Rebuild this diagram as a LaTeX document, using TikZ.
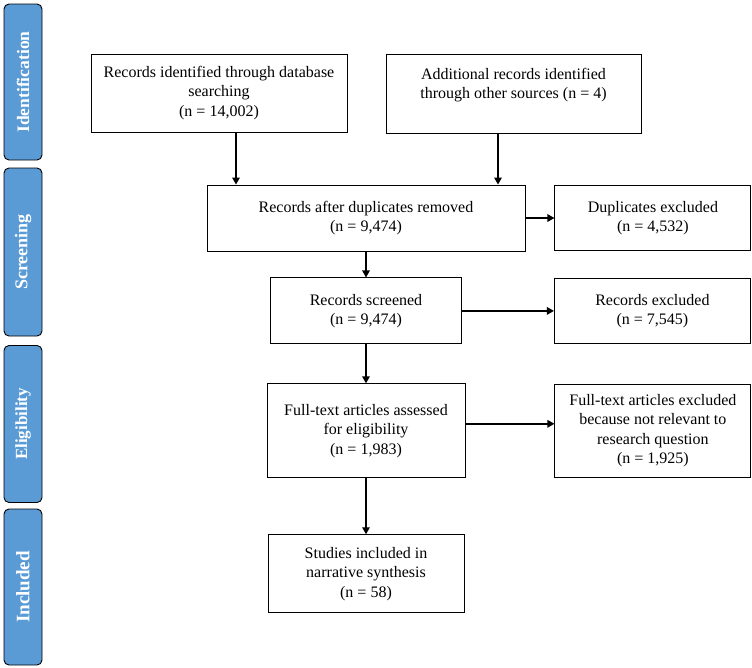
\documentclass[tikz,border=0pt]{standalone}
\usepackage{fontspec}
\setmainfont{Liberation Serif}
\usetikzlibrary{positioning,arrows.meta}
\definecolor{stageblue}{HTML}{5B9BD5}
\tikzset{
  flowbox/.style={draw=black, line width=0.9pt, align=center, inner sep=2pt, font=\fontsize{16}{19.5}\selectfont},
  stagebar/.style={draw=black, line width=0.9pt, fill=stageblue, rounded corners=5pt, rotate=90, minimum height=38pt, text=white, font=\bfseries\fontsize{#1}{20}\selectfont},
  flowarrow/.style={line width=1.4pt, -{Triangle[length=7pt,width=7.5pt]}},
}
\begin{document}
\begin{tikzpicture}[x=1pt,y=-1pt]
  \useasboundingbox (0,0) rectangle (752,667);
  \node[stagebar=17.5, minimum width=156pt] (ident) at (23,82) {Identification};
  \node[stagebar=18, minimum width=168pt] (screen) at (23,252) {Screening};
  \node[stagebar=17, minimum width=157pt] (elig) at (23,424) {Eligibility};
  \node[stagebar=19, minimum width=156pt] (incl) at (23,587) {Included};
  \node[flowbox, minimum width=256pt, minimum height=78pt] (db) at (219,93) {Records identified through database\\searching\\(n = 14,002)};
  \node[flowbox, minimum width=255pt, minimum height=79pt, text depth=20pt] (other) at (513.5,93.5) {Additional records identified\\through other sources (n = 4)};
  \node[flowbox, minimum width=318pt, minimum height=66pt] (dedup) at (366,218) {Records after duplicates removed\\(n = 9,474)};
  \node[flowbox, minimum width=196pt, minimum height=65pt, right=29pt of dedup] (dupex) {Duplicates excluded\\(n = 4,532)};
  \node[flowbox, minimum width=191pt, minimum height=66pt, below=26pt of dedup] (screened) {Records screened\\(n = 9,474)};
  \node[flowbox, minimum width=196pt, minimum height=65pt, right=92pt of screened] (recex) {Records excluded\\(n = 7,545)};
  \node[flowbox, minimum width=198pt, minimum height=94pt, below=39pt of screened] (fulltext) {Full-text articles assessed\\for eligibility\\(n = 1,983)};
  \node[flowbox, minimum width=196pt, minimum height=93pt, right=89pt of fulltext] (ftex) {Full-text articles excluded\\because not relevant to\\research question\\(n = 1,925)};
  \node[flowbox, minimum width=196pt, minimum height=78pt, below=56pt of fulltext] (included) {Studies included in\\narrative synthesis\\(n = 58)};
  \draw[flowarrow] ([xshift=17pt]db.south) -- ([xshift=17pt]db.south |- dedup.north);
  \draw[flowarrow] ([xshift=-15.5pt]other.south) -- ([xshift=-15.5pt]other.south |- dedup.north);
  \draw[flowarrow] (dedup) -- (dupex);
  \draw[flowarrow] (dedup) -- (screened);
  \draw[flowarrow] (screened) -- (recex);
  \draw[flowarrow] (screened) -- (fulltext);
  \draw[flowarrow] ([yshift=7pt]fulltext.east) -- ([yshift=7pt]fulltext.east -| ftex.west);
  \draw[flowarrow] (fulltext) -- (included);
\end{tikzpicture}
\end{document}
